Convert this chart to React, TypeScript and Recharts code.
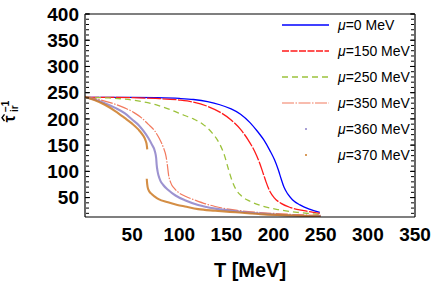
import React from 'react';
import { LineChart, Line, XAxis, YAxis, Legend } from 'recharts';

const FONT = '"Liberation Sans", Arial, sans-serif';

// [T (MeV), inverse relaxation time]
const mu0: [number, number][] = [
  [0, 241], [25, 241], [50, 241], [75, 240.5], [100, 239], [115, 237], [130, 233], [143, 227],
  [155, 219], [165, 209], [175, 193], [183, 176], [190, 159], [196, 140], [201, 122], [205, 103],
  [208, 86], [211, 70], [215, 57], [220, 46], [228, 36], [238, 28], [249, 22],
];
const mu150: [number, number][] = [
  [0, 241], [25, 241], [50, 240.5], [75, 239], [100, 236], [115, 232], [130, 224], [143, 213],
  [155, 198], [165, 180], [173, 160], [180, 138], [185, 117], [189, 96], [192, 80], [196, 62],
  [201, 49], [208, 39], [218, 31], [232, 25], [249, 20],
];
const mu250: [number, number][] = [
  [0, 241], [25, 240], [50, 236], [75, 227], [90, 218], [105, 207], [115, 200], [125, 190],
  [135, 173], [142, 155], [148, 130], [152, 105], [156, 82], [160, 66], [166, 53], [175, 43],
  [188, 34], [205, 27], [225, 22], [248, 18],
];
const mu350: [number, number][] = [
  [0, 242], [10, 239], [21, 234], [32, 228], [42, 221], [52, 212], [60, 202], [67, 190],
  [74, 177], [79, 162], [83, 146], [86, 128], [87.5, 110], [88.5, 95], [91, 78], [95, 67],
  [99, 60], [107, 52], [117, 45], [128, 38], [138, 33], [160, 26], [190, 21], [220, 18], [250, 16],
];
const mu360: [number, number][] = [
  [0, 242], [10, 237], [21, 230], [32, 221], [42, 211], [50, 199], [57, 188], [62, 177],
  [67, 164], [71, 151], [74, 139], [75.5, 125], [76, 113], [77, 100], [78, 92], [80, 82],
  [83, 74], [88, 65], [96, 54], [106, 45], [120, 36], [138, 29], [160, 24], [190, 19],
  [220, 16], [250, 15],
];
const mu370Upper: [number, number][] = [
  [0, 242], [10, 236], [21, 227], [32, 215], [42, 202], [50, 191], [56.5, 180], [61, 170],
  [64, 160], [65.5, 150], [66, 142],
];
const mu370Lower: [number, number][] = [
  [65.5, 86], [66, 75], [67, 66], [70, 58], [74, 52], [78, 47], [88, 41], [98, 36], [106, 33],
  [120, 28], [138, 25], [160, 22], [190, 18], [220, 16], [250, 14],
];

const seriesNames = ['μ=0 MeV', 'μ=150 MeV', 'μ=250 MeV', 'μ=350 MeV', 'μ=360 MeV', 'μ=370 MeV'];
const xMajorTicks = [50, 100, 150, 200, 250, 300, 350];
const yMajorTicks = [50, 100, 150, 200, 250, 300, 350, 400];
const xMinorTicks: number[] = [];
for (let t = 10; t <= 350; t += 10) xMinorTicks.push(t);
const yMinorTicks: number[] = [];
for (let t = 20; t <= 400; t += 10) yMinorTicks.push(t);

const X_DOMAIN: [number, number] = [0, 350];
const Y_DOMAIN: [number, number] = [13, 400];

const toRows = (arr: [number, number][]) => arr.map(([T, v]) => ({ T, v }));

const styles: Record<string, { kind: 'line' | 'dot'; color: string; dash?: string; w: number }> = {
  'μ=0 MeV': { kind: 'line', color: '#0000ff', w: 1.3 },
  'μ=150 MeV': { kind: 'line', color: '#ff1a1a', dash: '14 1.5', w: 1.3 },
  'μ=250 MeV': { kind: 'line', color: '#9cc23c', dash: '6 4', w: 1.3 },
  'μ=350 MeV': { kind: 'line', color: '#f27a5e', dash: '12 1.5 1.5 1.5', w: 1.2 },
  'μ=360 MeV': { kind: 'dot', color: '#8c80c8', w: 2.1 },
  'μ=370 MeV': { kind: 'dot', color: '#cc7a24', w: 2.1 },
};

const datasets = [mu0, mu150, mu250, mu350, mu360, mu370Upper];

const emptyTick = () => <g />;

const renderLegend = (props: any) => {
  const payload = (props.payload || []).filter((p: any) => styles[p.value]);
  return (
    <svg width={160} height={160} style={{ overflow: 'visible' }}>
      {payload.map((p: any, i: number) => {
        const s = styles[p.value];
        const y = 11 + i * 26;
        return (
          <g key={p.value}>
            {s.kind === 'line' ? (
              <line x1={7} x2={54} y1={y} y2={y} stroke={s.color} strokeWidth={s.w} strokeDasharray={s.dash === '14 1.5' ? '7 1.5' : s.dash} />
            ) : (
              <circle cx={31} cy={y} r={1} fill={s.color} />
            )}
            <text x={63} y={y + 5} fontSize={14} fontFamily={FONT} fill="#000">
              <tspan fontStyle="italic">μ</tspan>
              {p.value.slice(1)}
            </text>
          </g>
        );
      })}
    </svg>
  );
};

const YTitle = (props: any) => {
  const vb = props.viewBox || { x: 0, y: 14, width: 85, height: 203 };
  const cx = 12;
  const cy = vb.y + vb.height / 2 - 2;
  return (
    <g transform={`translate(${cx} ${cy}) rotate(-90)`} fontFamily={FONT} fontWeight="bold" fill="#000">
      <text x={-9} y={3} fontSize={16}>τ</text>
      <path d="M -7.5 -7.5 L -4.2 -10 L -0.9 -7.5" fill="none" stroke="#000" strokeWidth={1.4} />
      <text x={1.5} y={6} fontSize={10}>ir</text>
      <text x={1.5} y={-3.5} fontSize={10}>−1</text>
    </g>
  );
};

const tickStyle = { fontSize: 19, fontWeight: 'bold' as const, fontFamily: FONT, fill: '#000' };
const axisLine = { stroke: '#000', strokeWidth: 1.2 };
const tickLine = { stroke: '#000', strokeWidth: 1 };

export default function App() {
  return (
    <div style={{ position: 'absolute', left: 0, top: 0, width: 436, height: 283, background: '#fff' }}>
      <LineChart width={436} height={283} margin={{ top: 14, right: 21, left: 0, bottom: 0 }}>
        <XAxis
          dataKey="T"
          type="number"
          domain={X_DOMAIN}
          allowDataOverflow
          ticks={xMajorTicks}
          interval={0}
          tick={tickStyle}
          tickLine={false}
          tickSize={0}
          tickMargin={11}
          axisLine={axisLine}
          height={66}
          label={{ value: 'T [MeV]', position: 'insideBottom', offset: 6, style: { fontSize: 20, fontWeight: 'bold', fontFamily: FONT, fill: '#000' } }}
        />
        <XAxis xAxisId="bMajor" type="number" domain={X_DOMAIN} allowDataOverflow ticks={xMajorTicks} interval={0} mirror height={1} tick={emptyTick} tickSize={5} tickLine={tickLine} axisLine={false} />
        <XAxis xAxisId="bMinor" type="number" domain={X_DOMAIN} allowDataOverflow ticks={xMinorTicks} interval={0} mirror height={1} tick={emptyTick} tickSize={3} tickLine={tickLine} axisLine={false} />
        <XAxis xAxisId="tMajor" orientation="top" type="number" domain={X_DOMAIN} allowDataOverflow ticks={xMajorTicks} interval={0} mirror height={1} tick={emptyTick} tickSize={5} tickLine={tickLine} axisLine={axisLine} />
        <XAxis xAxisId="tMinor" orientation="top" type="number" domain={X_DOMAIN} allowDataOverflow ticks={xMinorTicks} interval={0} mirror height={1} tick={emptyTick} tickSize={3} tickLine={tickLine} axisLine={false} />
        <YAxis
          type="number"
          domain={Y_DOMAIN}
          allowDataOverflow
          ticks={yMajorTicks}
          interval={0}
          tick={tickStyle}
          tickLine={false}
          tickSize={0}
          tickMargin={6}
          axisLine={axisLine}
          width={85}
          label={{ content: <YTitle /> }}
        />
        <YAxis yAxisId="lMajor" type="number" domain={Y_DOMAIN} allowDataOverflow ticks={yMajorTicks} interval={0} mirror width={1} tick={emptyTick} tickSize={5} tickLine={tickLine} axisLine={false} />
        <YAxis yAxisId="lMinor" type="number" domain={Y_DOMAIN} allowDataOverflow ticks={yMinorTicks} interval={0} mirror width={1} tick={emptyTick} tickSize={3} tickLine={tickLine} axisLine={false} />
        <YAxis yAxisId="rMajor" orientation="right" type="number" domain={Y_DOMAIN} allowDataOverflow ticks={yMajorTicks} interval={0} mirror width={1} tick={emptyTick} tickSize={5} tickLine={tickLine} axisLine={axisLine} />
        <YAxis yAxisId="rMinor" orientation="right" type="number" domain={Y_DOMAIN} allowDataOverflow ticks={yMinorTicks} interval={0} mirror width={1} tick={emptyTick} tickSize={3} tickLine={tickLine} axisLine={false} />
        <Legend
          layout="vertical"
          align="center"
          verticalAlign="middle"
          content={renderLegend}
          wrapperStyle={{ top: 14, left: 275, width: 160, height: 160 }}
        />
        {seriesNames.map((name, i) => {
          const s = styles[name];
          return (
            <Line
              key={name}
              name={name}
              data={toRows(datasets[i])}
              dataKey="v"
              type="monotone"
              stroke={s.color}
              strokeWidth={s.w}
              strokeDasharray={s.dash}
              strokeOpacity={s.kind === 'dot' ? 0.85 : 1}
              dot={false}
              activeDot={false}
              isAnimationActive={false}
            />
          );
        })}
        <Line
          key="mu370lower"
          name="μ=370 MeV (lower)"
          legendType="none"
          data={toRows(mu370Lower)}
          dataKey="v"
          type="monotone"
          stroke={styles['μ=370 MeV'].color}
          strokeWidth={2.1}
          strokeOpacity={0.85}
          dot={false}
          activeDot={false}
          isAnimationActive={false}
        />
      </LineChart>
    </div>
  );
}
